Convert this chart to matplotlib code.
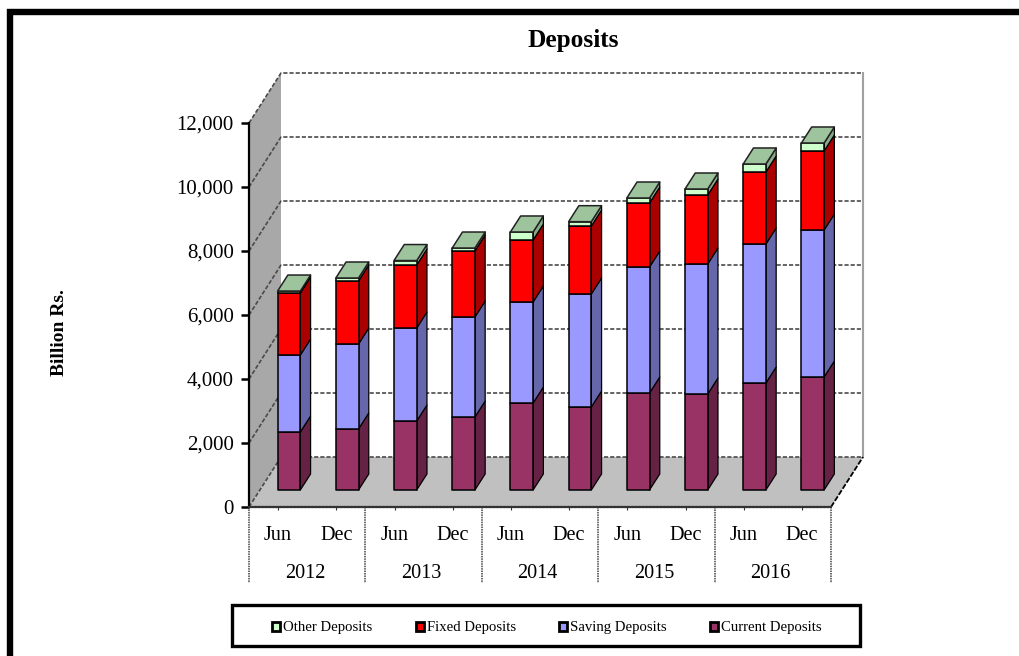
import matplotlib
matplotlib.use("Agg")
import matplotlib.pyplot as plt
from matplotlib.patches import Patch, Polygon, Rectangle
from matplotlib.ticker import FuncFormatter
from matplotlib.transforms import blended_transform_factory

plt.rcParams["font.family"] = ["Liberation Serif", "DejaVu Serif"]

# ---------------------------------------------------------
# Data (Billion Rs.)
# ---------------------------------------------------------
years = ["2012", "2013", "2014", "2015", "2016"]
months = ["Jun", "Dec"] * 5
y_ticks = [0, 2000, 4000, 6000, 8000, 10000, 12000]

current = [1812, 1906, 2156, 2281, 2719, 2594, 3031, 3000, 3344, 3531]
saving = [2406, 2656, 2906, 3125, 3156, 3531, 3938, 4062, 4344, 4594]
fixed = [1938, 1969, 1969, 2062, 1938, 2125, 2000, 2156, 2250, 2469]
other = [62, 94, 140, 94, 250, 135, 156, 188, 250, 250]

series = [current, saving, fixed, other]
front_colors = ["#993366", "#9999FF", "#FF0000", "#CCFFCC"]
side_colors = ["#662244", "#6666AA", "#AA0000", "#88AA88"]
top_color = "#9DC49D"
legend_names = ["Other Deposits", "Fixed Deposits", "Saving Deposits", "Current Deposits"]

W, H = 1019, 656
DEPTH_X = 32 / 58.2   # categories per full depth
DEPTH_Y = 50 / 0.032  # value units per full depth
BAR_W = 0.39
BAR_D0, BAR_D1 = 0.34, 0.66


def proj(x, v, d):
    """Oblique projection of (category, value, depth) into front plane data coords."""
    return (x + d * DEPTH_X, v + d * DEPTH_Y)


def face(ax, pts, color, z, edge="black", lw=1.0):
    ax.add_patch(Polygon(pts, closed=True, facecolor=color, edgecolor=edge,
                         linewidth=lw, clip_on=False, zorder=z, joinstyle="round"))


fig = plt.figure(figsize=(W / 100, H / 100), dpi=100)
ax = fig.add_axes([249 / W, 1 - 507 / H, 582 / W, 384 / H])
ax.set_xlim(0, 10)
ax.set_ylim(0, 12000)
ax.patch.set_visible(False)

# outer frame of the picture, runs off the right and bottom edges
fig.add_artist(Rectangle((10 / W, -0.05), 1.1, 1.05 - 12 / H, transform=fig.transFigure,
                         fill=False, edgecolor="black", linewidth=4.6))

# ---------------------------------------------------------
# Walls and floor
# ---------------------------------------------------------
face(ax, [proj(0, 0, 0), proj(0, 12000, 0), proj(0, 12000, 1), proj(0, 0, 1)],
     "#A8A8A8", 0.2, edge="none", lw=0)
face(ax, [proj(0, 0, 0), proj(10, 0, 0), proj(10, 0, 1), proj(0, 0, 1)],
     "#C0C0C0", 0.2, edge="none", lw=0)

grid_kw = dict(color="#4A4A4A", linewidth=1.2, linestyle=(0, (2.5, 1.2)), clip_on=False, zorder=0.5)
for tick in y_ticks:
    p0, p1, p2 = proj(0, tick, 0), proj(0, tick, 1), proj(10, tick, 1)
    ax.plot([p0[0], p1[0], p2[0]], [p0[1], p1[1], p2[1]], **grid_kw)

# right edge of the back wall and of the floor
p_a, p_b = proj(10, 0, 1), proj(10, 12000, 1)
ax.plot([p_a[0], p_b[0]], [p_a[1], p_b[1]], color="#A0A0A0", linewidth=1.5, clip_on=False, zorder=0.5)
p_c = proj(10, 0, 0)
ax.plot([p_c[0], p_a[0]], [p_c[1], p_a[1]], color="black", linewidth=1.3,
        linestyle=(0, (3, 1)), clip_on=False, zorder=0.6)

# ---------------------------------------------------------
# Stacked 3D bars
# ---------------------------------------------------------
z = 1.0
for i in range(len(months)):
    x0 = i + 0.5 - BAR_W / 2
    x1 = i + 0.5 + BAR_W / 2
    base = 0
    for s, values in enumerate(series):
        top = base + values[i]
        # side face
        face(ax, [proj(x1, base, BAR_D0), proj(x1, top, BAR_D0),
                  proj(x1, top, BAR_D1), proj(x1, base, BAR_D1)],
             side_colors[s], z, lw=0.9)
        z += 0.001
        # front face
        face(ax, [proj(x0, base, BAR_D0), proj(x1, base, BAR_D0),
                  proj(x1, top, BAR_D0), proj(x0, top, BAR_D0)],
             front_colors[s], z, lw=1.1)
        z += 0.001
        base = top
    # only the uppermost segment shows its top
    face(ax, [proj(x0, base, BAR_D0), proj(x1, base, BAR_D0),
              proj(x1, base, BAR_D1), proj(x0, base, BAR_D1)],
         top_color, z, edge="#222222", lw=1.1)
    z += 0.001

# ---------------------------------------------------------
# Axes, ticks, labels
# ---------------------------------------------------------
for side in ["top", "right"]:
    ax.spines[side].set_visible(False)
ax.spines["left"].set_linewidth(1.6)
ax.spines["left"].set_linestyle((0, (12, 1)))
ax.spines["bottom"].set_linewidth(1.6)
ax.spines["bottom"].set_linestyle((0, (1, 0.6)))
ax.spines["bottom"].set_color("#333333")
for spine in ax.spines.values():
    spine.set_zorder(50)

ax.set_yticks(y_ticks)
ax.yaxis.set_major_formatter(FuncFormatter(lambda v, pos: f"{int(v):,}"))
ax.tick_params(axis="y", length=6, width=1.8, pad=5, labelsize=15, colors="black")

ax.set_xticks([i + 0.5 for i in range(len(months))])
ax.set_xticklabels(months)
ax.tick_params(axis="x", length=2, width=0.8, pad=11.5, labelsize=14.6, color="#333333")

trans = blended_transform_factory(ax.transData, ax.transAxes)
for g, year in enumerate(years):
    ax.text(2 * g + 0.96, -66 / 384, year, transform=trans, ha="center", va="center",
            fontsize=14.6, color="black")
for g in range(len(years) + 1):
    ax.plot([2 * g, 2 * g], [0, -76 / 384], transform=trans, color="#444444",
            linewidth=1.1, linestyle=(0, (1, 0.6)), clip_on=False, zorder=0.6)

fig.text(573.5 / W, 1 - 40 / H, "Deposits", ha="center", va="center", fontsize=18.2, fontweight="bold")
fig.text(60 / W, 1 - 333 / H, "Billion Rs.", ha="center", va="center", rotation=90,
         fontsize=14, fontweight="bold")

# ---------------------------------------------------------
# Legend
# ---------------------------------------------------------
fig.add_artist(Rectangle((232 / W, 1 - 646 / H), 628 / W, 41 / H, transform=fig.transFigure,
                         fill=False, edgecolor="black", linewidth=2.4))
handle_colors = ["#CCFFCC", "#FF0000", "#9999FF", "#993366"]
handles = [Patch(facecolor=c, edgecolor="black", linewidth=2.0, joinstyle="round") for c in handle_colors]
fig.legend(handles, legend_names, ncol=4, frameon=False, fontsize=10.6,
           loc="center", bbox_to_anchor=(547 / W, 1 - 628 / H),
           handlelength=0.55, handleheight=0.55, handletextpad=0.2, columnspacing=2.95)

fig.savefig("out.png", dpi=100)
